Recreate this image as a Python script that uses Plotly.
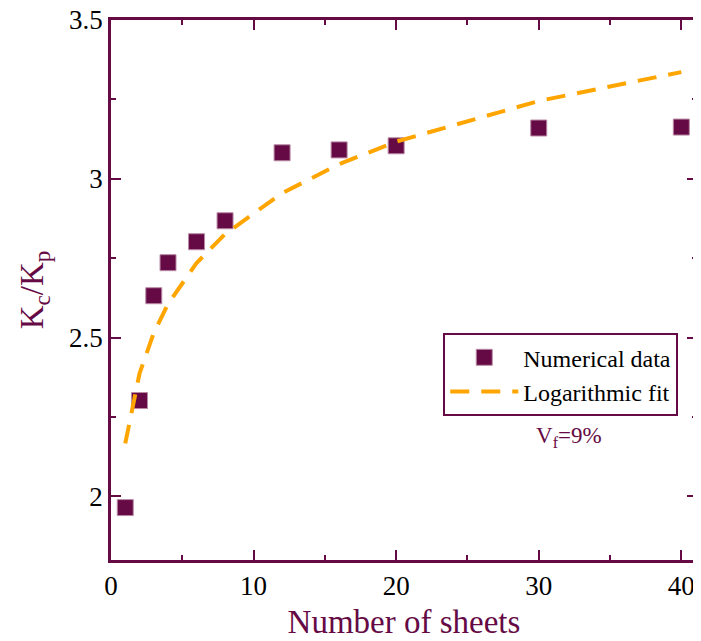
import plotly.graph_objects as go

# Data
sheets = [1, 2, 3, 4, 6, 8, 12, 16, 20, 30, 40]
kc_kp = [1.965, 2.302, 2.632, 2.736, 2.802, 2.868, 3.082, 3.091, 3.104, 3.160, 3.163]
fit_vals = [2.167, 2.387, 2.515, 2.606, 2.735, 2.826, 2.955, 3.046, 3.117, 3.245, 3.336]

PURPLE = "#660A45"
ORANGE = "#FFA500"
FONT = "Liberation Serif"

fig = go.Figure()
fig.add_trace(go.Scatter(
    x=sheets, y=kc_kp, mode="markers", name="Numerical data",
    marker=dict(symbol="square", size=16, color=PURPLE,
                line=dict(width=1, color="#B98AA5")),
))
fig.add_trace(go.Scatter(
    x=sheets, y=fit_vals, mode="lines", name="Logarithmic fit",
    line=dict(color=ORANGE, width=4, dash="19px,12px"),
))

axis_common = dict(
    showline=True, linecolor=PURPLE, linewidth=2.5, mirror="ticks",
    ticks="inside", tickcolor=PURPLE, tickwidth=2, ticklen=10,
    showgrid=False, zeroline=False, ticklabeloverflow="allow", automargin=False,
    tickfont=dict(family=FONT, size=27, color="black"),
    minor=dict(ticks="inside", ticklen=5, tickwidth=2, tickcolor=PURPLE, showgrid=False),
)

fig.update_xaxes(
    range=[0, 41.1], tickvals=[0, 10, 20, 30, 40], minor_dtick=5,
    title=dict(text="Number of sheets", font=dict(family=FONT, size=33, color=PURPLE), standoff=10),
    **axis_common,
)
fig.update_yaxes(
    range=[1.8, 3.5], tickvals=[2, 2.5, 3, 3.5], ticktext=["2", "2.5", "3", "3.5"], minor_dtick=0.25,
    title=dict(text="K<sub>c</sub>/K<sub>p</sub>", font=dict(family=FONT, size=33, color=PURPLE), standoff=16),
    **axis_common,
)

fig.add_annotation(
    x=0.782, y=0.228, xref="paper", yref="paper", showarrow=False,
    text="V<sub>f</sub>=9%", font=dict(family=FONT, size=23, color=PURPLE),
    xanchor="center", yanchor="middle",
)

# page body has an 8px margin, so the figure is sized/offset to compensate
fig.update_layout(
    width=693, height=633,
    margin=dict(l=103, r=4, t=12, b=81, autoexpand=False),
    font=dict(family=FONT, color="black"),
    paper_bgcolor="white", plot_bgcolor="white",
    showlegend=True,
    legend=dict(
        x=0.567, y=0.42, xanchor="left", yanchor="top",
        bordercolor=PURPLE, borderwidth=2, bgcolor="white",
        font=dict(family=FONT, size=24, color="black"),
        itemwidth=68, tracegroupgap=0,
    ),
)

fig.write_html("out.html")
